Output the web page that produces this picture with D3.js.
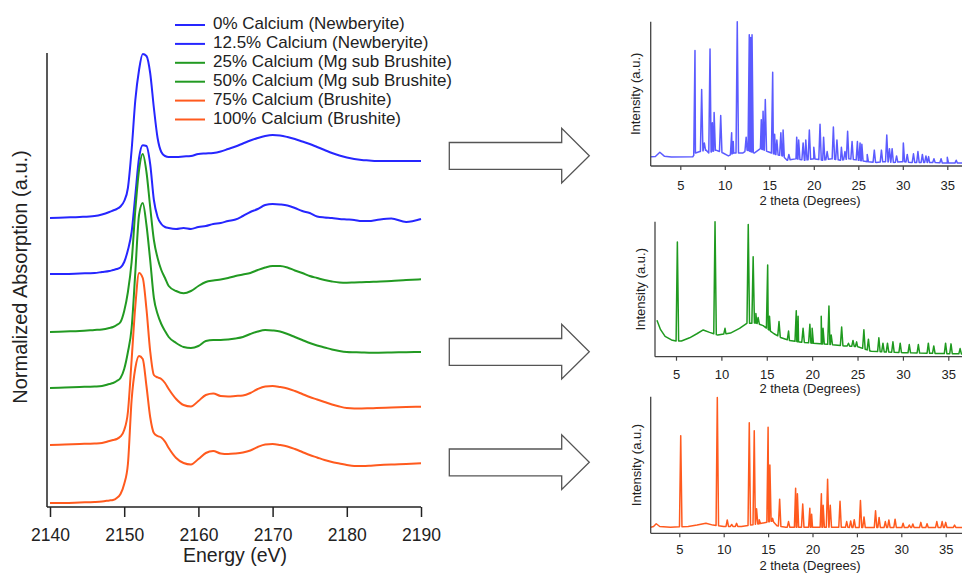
<!DOCTYPE html>
<html><head><meta charset="utf-8">
<script src="https://cdn.jsdelivr.net/npm/d3@7"></script>
<style>body{margin:0;background:#fff}svg{display:block}text{font-family:"Liberation Sans",Arial,Helvetica,sans-serif}</style>
</head><body><svg id="c" width="962" height="574"></svg>
<script>
// ---------- XANES data (normalized absorption, a.u.) ----------
const energy = [2140,2142,2144,2146,2147,2148,2148.5,2149,2149.5,2150,2150.5,2151,2151.5,2152,2152.5,2153,2153.5,2154,2154.5,2155,2155.5,2156,
  2157,2158,2159,2160,2161,2162,2163,2164,2165,2166,2167,2168,2169,2170,2171,2172,2173,2174,2175,2176,2177,2178,2179,2180,2181,2182,2183,2184,2186,2188,2190];
const seriesNames = ["0% Calcium (Newberyite)","12.5% Calcium (Newberyite)","25% Calcium (Mg sub Brushite)","50% Calcium (Mg sub Brushite)","75% Calcium (Brushite)","100% Calcium (Brushite)"];
const offsets = [7.225, 5.825, 4.375, 2.975, 1.55, 0.1];
const ca0 = [0,0.013,0.025,0.05,0.088,0.15,0.188,0.225,0.288,0.425,0.75,1.7,2.95,3.7,4.1,4.05,3.625,2.75,2.0,1.65,1.55,1.525,
  1.525,1.538,1.55,1.6,1.613,1.625,1.663,1.725,1.788,1.863,1.938,2.0,2.05,2.075,2.063,2.025,1.975,1.913,1.85,1.775,1.7,1.625,1.563,1.513,1.475,1.45,1.438,1.425,1.425,1.425,1.425];
const ca125 = [0,0,0.013,0.025,0.05,0.075,0.1,0.125,0.163,0.3,0.6,1.05,1.975,2.9,3.22,3.2,2.75,1.85,1.425,1.25,1.175,1.15,
  1.125,1.15,1.125,1.175,1.2,1.25,1.275,1.325,1.363,1.45,1.55,1.625,1.725,1.75,1.738,1.713,1.65,1.575,1.525,1.438,1.413,1.4,1.375,1.363,1.35,1.325,1.325,1.35,1.388,1.3,1.375];
const ca25 = [0,0.013,0.025,0.05,0.063,0.1,0.125,0.175,0.25,0.525,1.0,1.75,3.05,4.05,4.45,4.0,3.125,2.3,1.85,1.55,1.35,1.15,
  1.025,0.968,1.025,1.15,1.25,1.288,1.313,1.35,1.4,1.438,1.475,1.55,1.613,1.65,1.65,1.613,1.538,1.475,1.4,1.35,1.3,1.263,1.238,1.233,1.238,1.243,1.25,1.258,1.275,1.3,1.318];
const ca50 = [0,0.013,0.025,0.038,0.05,0.1,0.125,0.175,0.25,0.475,0.9,1.5,2.9,4.325,4.625,4.075,3.2,2.25,1.85,1.6,1.425,1.275,
  1.125,1.025,1.0,1.05,1.175,1.2,1.2,1.213,1.238,1.275,1.35,1.413,1.45,1.438,1.413,1.35,1.275,1.2,1.125,1.063,1.013,0.963,0.925,0.9,0.893,0.888,0.883,0.883,0.888,0.895,0.9];
const ca75 = [0,0.013,0.025,0.038,0.05,0.1,0.125,0.15,0.213,0.375,0.825,2.125,3.475,4.3,4.175,3.4,2.35,1.75,1.688,1.65,1.55,1.4,
  1.15,1.0,0.963,1.1,1.25,1.288,1.225,1.213,1.225,1.238,1.3,1.4,1.463,1.475,1.45,1.413,1.35,1.275,1.2,1.138,1.075,1.013,0.963,0.925,0.913,0.913,0.918,0.925,0.938,0.95,0.958];
const ca100 = [0,0,0.013,0.025,0.038,0.063,0.075,0.125,0.225,0.475,0.975,2.575,3.375,3.675,3.6,2.925,2.15,1.75,1.675,1.638,1.533,1.375,
  1.125,1.0,0.963,1.1,1.25,1.3,1.238,1.225,1.238,1.263,1.313,1.4,1.463,1.475,1.45,1.413,1.35,1.275,1.2,1.138,1.075,1.025,0.988,0.95,0.925,0.925,0.93,0.943,0.963,0.975,0.993];
const energyTicks = [2140,2150,2160,2170,2180,2190];

// ---------- XRD data: [2theta, intensity %] ----------
const xrdTicks = [5,10,15,20,25,30,35];
const newberyiteBg = [[1.7,6.4],[2.2,6.6],[2.7,9.5],[3.2,6.8],[4,6.2],[6.4,6.4],[6.7,9],[7.2,10],[7.9,11],[8.2,9],[9,11],[9.8,9],[10.4,7],[11,9],[12,9],[12.5,11],[13.3,9],[14,12],[14.8,10],[15.7,8],[16.5,7],[17,4],[18,5],[19,4],[20,5],[21,4],[22,5],[23,4],[24,5],[25,4],[26,3],[27,2.5],[28,3],[29,2.5],[30,3],[31,2.5],[33,2.5],[35,2],[37,2]];
const newberyitePeaks = [[6.65,80],[7.4,53],[7.7,16],[8.34,81],[8.6,30],[8.8,37],[9.54,35],[10.77,23],[10.95,17],[11.4,100],[12.4,20],[12.75,91],[12.9,89],[13.06,91],[14.1,32],[14.3,38],[14.55,46],[15.38,65],[15.6,22],[15.85,18],[16.3,23],[16.55,25],[17.2,8],[18.08,20],[18.3,18],[18.8,16],[19.1,18],[19.5,25],[20.0,13],[20.7,29],[21.1,20],[21.5,10],[22.2,27],[22.6,18],[23.1,13],[23.5,10],[23.8,24],[24.3,17],[24.9,17],[25.2,16],[25.4,15],[26.0,8],[26.8,11],[27.6,11],[28.2,21.5],[28.5,12],[28.8,12],[29.3,7],[30.06,16],[30.5,8],[31.2,8.5],[31.7,10],[32.2,8],[32.6,7],[32.9,6.5],[33.5,5],[34.3,5],[35.0,6],[36,4]];
const mgBrushiteBg = [[2.9,27],[3.3,20],[3.8,15],[4.5,12.4],[5,11.6],[5.6,11.6],[6.5,14],[7.3,17],[8,19.8],[8.7,18],[9.6,16],[10.5,17],[11,17.5],[12,21],[12.8,24.7],[13.8,25],[14.6,23],[15.4,19],[15.8,17],[16.6,14],[17.5,12],[18.5,11],[20,10],[21,9.5],[22,9],[23.5,8],[25,7.5],[26.5,4],[28,3.5],[30,3],[33,2.5],[37,2]];
const mgBrushitePeaks = [[5.15,85],[9.3,100],[10.4,21],[12.96,98],[13.5,74],[13.8,32],[14.05,29],[15.1,68],[15.3,30],[16.35,26],[17.4,19],[18.25,34],[18.45,30],[19.0,21],[19.75,24],[20.0,21],[21.0,30],[21.2,21],[21.85,37.5],[22.1,16],[23.25,22],[24.0,10],[24.5,12],[24.9,11],[25.7,20],[26.2,13],[27.35,14],[27.8,10],[28.3,10],[28.9,11],[29.7,10],[30.7,9],[31.7,9],[32.8,10],[33.4,8],[34.7,10],[35.3,9.5],[36.3,6]];
const brushiteBg = [[1.78,4.5],[2.1,5],[2.4,7],[2.8,5],[4,4.5],[6,5],[7,6],[8,7.3],[8.8,6],[10,5],[12,5],[14,7],[15.5,9],[16,5.5],[17,4.5],[20,4.5],[25,4.3],[30,4.3],[37,4.3]];
const brushitePeaks = [[5.16,71.5],[9.28,99.5],[10.4,9.8],[10.9,6.5],[11.45,7.3],[12.88,81],[13.44,75],[13.7,18],[14.0,10],[15.0,77.6],[15.2,50],[15.5,11],[16.3,25],[17.3,8.6],[18.1,33],[18.3,29],[18.9,21.5],[19.7,18.3],[19.9,14],[21.0,29],[21.2,20.5],[21.7,39.5],[22.0,20.5],[23.1,23.4],[23.85,8.6],[24.3,9],[24.7,10],[25.4,24],[25.8,12],[27.1,16.5],[27.5,11.6],[28.2,8.6],[28.6,9.8],[29.3,10.3],[30.2,7.3],[30.9,6.1],[31.3,6.8],[32.2,8],[32.9,7],[34.0,8.6],[34.6,8.6],[35.0,8],[36.0,6]];

// ---------- styles ----------
const BLUE = "#2626ff", GREEN = "#229a22", ORANGE = "#ff5a1e";
const seriesColors = [BLUE, BLUE, GREEN, GREEN, ORANGE, ORANGE];
const xrdColors = ["#5b5bff", "#1f9a1f", "#ff5a1e"];
const AX = "#222";

const svg = d3.select("#c");
const series = [ca0, ca125, ca25, ca50, ca75, ca100];

// ---------- main XANES panel ----------
const x = d3.scaleLinear().domain([2140, 2190]).range([50, 421]);
const y = d3.scaleLinear().domain([0, 11.35]).range([507, 53]);
const line = d3.line().x((d, i) => x(energy[i])).y(d => y(d)).curve(d3.curveMonotoneX);

series.forEach((s, k) => {
  svg.append("path").attr("d", line(s.map(v => v + offsets[k])))
    .attr("fill", "none").attr("stroke", seriesColors[k]).attr("stroke-width", 2)
    .attr("stroke-linejoin", "round");
});

svg.append("line").attr("x1", 47).attr("x2", 47).attr("y1", y(11.35)).attr("y2", y(0))
  .attr("stroke", AX).attr("stroke-width", 1.5);
svg.append("line").attr("x1", 47).attr("x2", x(2190)).attr("y1", y(0)).attr("y2", y(0))
  .attr("stroke", AX).attr("stroke-width", 1.5);
const gx = svg.append("g").attr("transform", `translate(0,${y(0)})`)
  .call(d3.axisBottom(x).tickValues(energyTicks).tickSize(10).tickPadding(11.5).tickFormat(d3.format("d")));
gx.select(".domain").remove();
gx.selectAll(".tick line").attr("stroke", AX).attr("stroke-width", 1.5);
gx.selectAll(".tick text").attr("fill", AX).style("font-size", "17.5px").style("font-family", '"Liberation Sans",Arial,sans-serif');

svg.append("text").attr("x", 235).attr("y", 557).attr("text-anchor", "middle").attr("dominant-baseline", "middle")
  .style("font-size", "19.5px").attr("fill", AX).text("Energy (eV)");
svg.append("text").attr("transform", "translate(22,277) rotate(-90)").attr("text-anchor", "middle").attr("dominant-baseline", "middle")
  .style("font-size", "20px").attr("fill", AX).text("Normalized Absorption (a.u.)");

// legend
const lg = svg.append("g");
seriesNames.forEach((n, i) => {
  const yy = 25 + i * 18.9;
  lg.append("line").attr("x1", 175).attr("x2", 205).attr("y1", yy).attr("y2", yy)
    .attr("stroke", seriesColors[i]).attr("stroke-width", 2);
  lg.append("text").attr("x", 213).attr("y", yy).attr("dominant-baseline", "middle")
    .style("font-size", "17px").attr("fill", AX).text(n);
});

// ---------- arrows ----------
function arrow(cy) {
  const p = d3.path();
  p.moveTo(449.3, cy - 13.3); p.lineTo(561.7, cy - 13.3); p.lineTo(561.7, cy - 27.4);
  p.lineTo(589.3, cy); p.lineTo(561.7, cy + 27.2); p.lineTo(561.7, cy + 13.6);
  p.lineTo(449.3, cy + 13.6); p.closePath();
  svg.append("path").attr("d", p.toString()).attr("fill", "#fff").attr("stroke", "#555").attr("stroke-width", 1.3);
}
[155.8, 351.8, 462.3].forEach(arrow);

// ---------- XRD panels ----------
function xrdPanel(cfg, bg, peaks, color) {
  const xs = d3.scaleLinear().domain([5, 35]).range([cfg.x5, cfg.x35]);
  const ys = d3.scaleLinear().domain([0, 100]).range([cfg.base, cfg.top]);
  const bgAt = v => {
    const i = d3.bisector(d => d[0]).left(bg, v);
    if (i <= 0) return bg[0][1];
    if (i >= bg.length) return bg[bg.length - 1][1];
    const a = bg[i - 1], b = bg[i];
    return a[1] + (b[1] - a[1]) * (v - a[0]) / (b[0] - a[0]);
  };
  const w = 0.14;
  let pts = bg.map(d => [d[0], d[1]]);
  peaks.forEach(p => {
    pts.push([p[0] - w, bgAt(p[0] - w)]);
    pts.push([p[0], p[1]]);
    pts.push([p[0] + w, bgAt(p[0] + w)]);
  });
  pts.sort((a, b) => a[0] - b[0]);
  svg.append("path").attr("d", d3.line().x(d => xs(d[0])).y(d => ys(d[1]))(pts))
    .attr("fill", "none").attr("stroke", color).attr("stroke-width", 1.5).attr("stroke-linejoin", "round");

  svg.append("line").attr("x1", cfg.ax).attr("x2", cfg.ax).attr("y1", cfg.top).attr("y2", cfg.base)
    .attr("stroke", "#444").attr("stroke-width", 1.3);
  svg.append("line").attr("x1", cfg.ax).attr("x2", 962).attr("y1", cfg.base).attr("y2", cfg.base)
    .attr("stroke", "#444").attr("stroke-width", 1.3);
  const g = svg.append("g").attr("transform", `translate(0,${cfg.base})`)
    .call(d3.axisBottom(xs).tickValues(xrdTicks).tickSize(4).tickPadding(cfg.pad).tickFormat(d3.format("d")));
  g.select(".domain").remove();
  g.selectAll(".tick line").attr("stroke", "#444").attr("stroke-width", 1.2);
  g.selectAll(".tick text").attr("fill", AX).style("font-size", "13px").style("font-family", '"Liberation Sans",Arial,sans-serif');
  svg.append("text").attr("x", 810).attr("y", cfg.titleY).attr("text-anchor", "middle").attr("dominant-baseline", "middle")
    .style("font-size", "13px").attr("fill", AX).text("2 theta (Degrees)");
  svg.append("text").attr("transform", `translate(${cfg.ylx},${(cfg.top + cfg.base) / 2}) rotate(-90)`)
    .attr("text-anchor", "middle").attr("dominant-baseline", "middle")
    .style("font-size", "13px").attr("fill", AX).text("Intensity (a.u.)");
}
xrdPanel({x5: 680.3, x35: 947.3, base: 166, top: 21.7, ax: 650.7, pad: 10.3, titleY: 201.7, ylx: 636.7}, newberyiteBg, newberyitePeaks, xrdColors[0]);
xrdPanel({x5: 676, x35: 948.3, base: 356.7, top: 221.7, ax: 655, pad: 9, titleY: 390, ylx: 641.7}, mgBrushiteBg, mgBrushitePeaks, xrdColors[1]);
xrdPanel({x5: 679.3, x35: 945.7, base: 533.3, top: 396.7, ax: 650.7, pad: 7, titleY: 567, ylx: 637.3}, brushiteBg, brushitePeaks, xrdColors[2]);
</script></body></html>
